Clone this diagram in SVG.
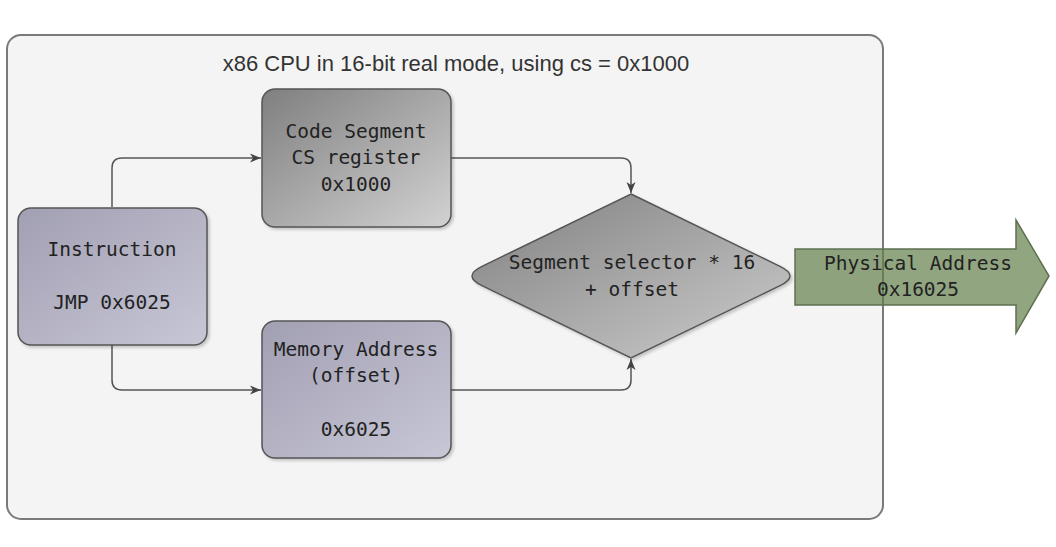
<svg xmlns="http://www.w3.org/2000/svg" width="1056" height="547" viewBox="0 0 1056 547">
  <style>
    .mono { font-family: "DejaVu Sans Mono", "Liberation Mono", monospace; font-size: 19.5px; fill: #222; text-anchor: middle; }
    .title { font-family: "Liberation Sans", Arial, sans-serif; font-size: 22px; fill: #333; text-anchor: middle; }
    .conn { fill: none; stroke: #555; stroke-width: 1.5; }
    .box { stroke: #555; stroke-width: 1.5; }
  </style>
  <defs>
    <linearGradient id="gGray" x1="0" y1="0" x2="1" y2="1">
      <stop offset="0" stop-color="#7f7f7f"/>
      <stop offset="1" stop-color="#d2d2d2"/>
    </linearGradient>
    <linearGradient id="gLav" x1="0" y1="0" x2="1" y2="1">
      <stop offset="0" stop-color="#a19fb2"/>
      <stop offset="1" stop-color="#c8c7d6"/>
    </linearGradient>
    <linearGradient id="gDia" x1="0" y1="0" x2="1" y2="1">
      <stop offset="0" stop-color="#808080"/>
      <stop offset="1" stop-color="#cdcdcd"/>
    </linearGradient>
    <filter id="sh" x="-10%" y="-10%" width="130%" height="130%">
      <feDropShadow dx="2" dy="2" stdDeviation="1.5" flood-color="#000" flood-opacity="0.2"/>
    </filter>
    <marker id="arr" markerUnits="userSpaceOnUse" markerWidth="12" markerHeight="10" refX="11" refY="5" orient="auto">
      <path d="M0,0.5 L11,5 L0,9.5 L3,5 Z" fill="#444"/>
    </marker>
  </defs>

  <rect width="1056" height="547" fill="#ffffff"/>

  <g id="container">
    <rect x="7" y="35" width="876" height="484" rx="14" fill="#f4f4f4" stroke="#7a7a7a" stroke-width="2"/>
    <text class="title" x="456" y="71">x86 CPU in 16-bit real mode, using cs = 0x1000</text>
  </g>

  <g id="connectors">
    <path class="conn" d="M112,207 L112,168 Q112,158 122,158 L261,158" marker-end="url(#arr)"/>
    <path class="conn" d="M112,345 L112,380 Q112,390 122,390 L261,390" marker-end="url(#arr)"/>
    <path class="conn" d="M451,158 L621,158 Q631,158 631,168 L631,193" marker-end="url(#arr)"/>
    <path class="conn" d="M451,390 L621,390 Q631,390 631,380 L631,359" marker-end="url(#arr)"/>
  </g>

  <g id="code-segment">
    <rect class="box" x="262" y="89" width="189" height="138" rx="13" fill="url(#gGray)" filter="url(#sh)"/>
    <text class="mono" x="356" y="138">Code Segment</text>
    <text class="mono" x="356" y="164">CS register</text>
    <text class="mono" x="356" y="191">0x1000</text>
  </g>

  <g id="instruction">
    <rect class="box" x="18" y="208" width="189" height="137" rx="13" fill="url(#gLav)" filter="url(#sh)"/>
    <text class="mono" x="112" y="256">Instruction</text>
    <text class="mono" x="112" y="309">JMP 0x6025</text>
  </g>

  <g id="memory-address">
    <rect class="box" x="262" y="321" width="189" height="137" rx="13" fill="url(#gLav)" filter="url(#sh)"/>
    <text class="mono" x="356" y="356">Memory Address</text>
    <text class="mono" x="356" y="382">(offset)</text>
    <text class="mono" x="356" y="436">0x6025</text>
  </g>

  <g id="segment-calc">
    <path class="box" d="M631,194 L780,266.3 Q800,276 780,285.7 L631,358 L482,285.7 Q462,276 482,266.3 Z" fill="url(#gDia)" filter="url(#sh)"/>
    <text class="mono" x="632" y="269">Segment selector * 16</text>
    <text class="mono" x="632" y="296">+ offset</text>
  </g>

  <g id="physical-address">
    <path d="M795,249 L1016,249 L1016,220 L1049,276 L1016,333 L1016,305 L795,305 Z" fill="#62804a" fill-opacity="0.7" stroke="#5f7050" stroke-width="1.5"/>
    <text class="mono" x="918" y="270">Physical Address</text>
    <text class="mono" x="918" y="296">0x16025</text>
  </g>
</svg>
